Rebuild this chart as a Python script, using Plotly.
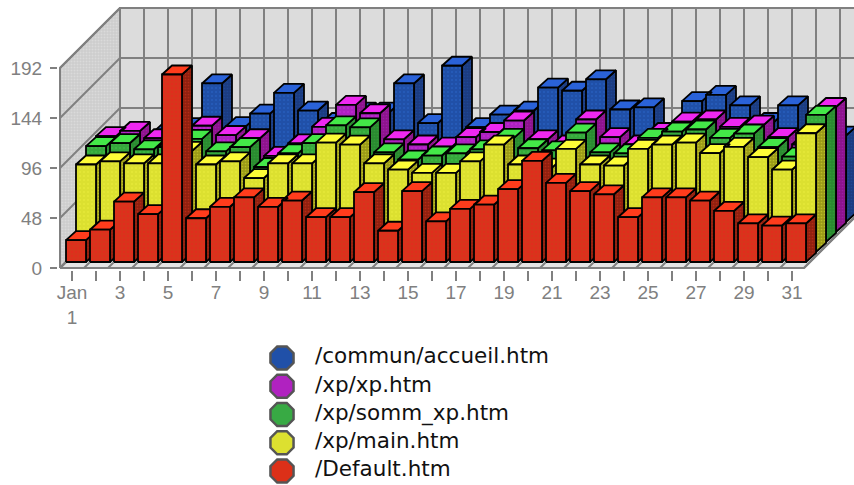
import plotly.graph_objects as go

days = list(range(1, 32))
tick_labels = ["Jan<br>1" if d == 1 else (str(d) if d % 2 else "") for d in days]
y_ticks = [0, 48, 96, 144, 192]

default_htm = [21, 31, 58, 46, 180, 42, 53, 62, 53, 59, 43, 43, 67, 30, 68, 39, 51, 55, 70, 97, 76, 68, 65, 43, 62, 62, 59, 49, 37, 35, 37]
main_htm = [84, 87, 85, 85, 97, 84, 87, 71, 85, 85, 105, 103, 85, 79, 76, 76, 87, 103, 84, 81, 99, 84, 83, 99, 103, 105, 95, 101, 91, 79, 114]
somm_xp_htm = [92, 95, 89, 91, 99, 87, 91, 72, 85, 95, 112, 110, 86, 79, 83, 85, 89, 100, 90, 88, 105, 86, 85, 100, 106, 108, 100, 104, 91, 82, 122]
xp_htm = [92, 97, 90, 88, 102, 93, 90, 73, 85, 101, 122, 114, 89, 84, 82, 91, 96, 107, 89, 84, 108, 91, 84, 96, 106, 108, 101, 103, 91, 84, 120]
accueil_htm = [77, 77, 87, 91, 133, 92, 104, 124, 107, 96, 106, 106, 133, 95, 150, 91, 103, 107, 129, 126, 137, 108, 110, 86, 116, 122, 112, 96, 112, 86, 83]

names = ["/commun/accueil.htm", "/xp/xp.htm", "/xp/somm_xp.htm", "/xp/main.htm", "/Default.htm"]
values = [accueil_htm, xp_htm, somm_xp_htm, main_htm, default_htm]
slots = [4, 3, 2, 1, 0]
front_col = ["#2050a8", "#ae22c0", "#36a83c", "#dce030", "#d8341c"]
top_col = ["#2a62d8", "#ee28f0", "#44e848", "#fdfc38", "#ff3c1c"]
side_col = ["#1c3c80", "#8c148c", "#2a8a30", "#9a9a18", "#90200f"]
dot_col = ["#2c6ad0", "#d030e0", "#44c850", "#f0f040", "#f02020"]

# projection: one plot pixel expressed in each axis' units
PX_X = 1 / 24
PX_Y = 48 / 50
WALL_DX, WALL_DY = 60 * PX_X, 60 * PX_Y
X0 = 0.5  # left end of the floor front edge
XN = 31.5
GRAY = "#808080"

fig = go.Figure()


def poly(polys, fill, line=GRAY, width=1.8, pattern=None):
    xs, ys = [], []
    for p in polys:
        xs += [q[0] for q in p] + [p[0][0], None]
        ys += [q[1] for q in p] + [p[0][1], None]
    kw = {}
    if pattern:
        kw["fillpattern"] = pattern
    fig.add_trace(go.Scatter(x=xs, y=ys, mode="lines", fill="toself", fillcolor=fill,
                             line=dict(color=line, width=width), hoverinfo="skip",
                             showlegend=False, **kw))


def lines(segs, width=2):
    xs, ys = [], []
    for (a, b) in segs:
        xs += [a[0], b[0], None]
        ys += [a[1], b[1], None]
    fig.add_trace(go.Scatter(x=xs, y=ys, mode="lines", line=dict(color=GRAY, width=width),
                             hoverinfo="skip", showlegend=False))


top = y_ticks[-1]
# back wall
poly([[(X0 + WALL_DX, WALL_DY), (XN + WALL_DX + 2, WALL_DY), (XN + WALL_DX + 2, WALL_DY + top), (X0 + WALL_DX, WALL_DY + top)]],
     "#dcdcdc", width=2)
# left wall
poly([[(X0, 0), (X0 + WALL_DX, WALL_DY), (X0 + WALL_DX, WALL_DY + top), (X0, top)]], "#cccccc", width=2,
     pattern=dict(shape=".", fgcolor="#e8e8e8", size=3, solidity=0.35))
# floor
poly([[(X0, 0), (XN, 0), (XN + WALL_DX, WALL_DY), (X0 + WALL_DX, WALL_DY)]], "#e4e4e4", width=2)
grid = [((X0 + i + WALL_DX, WALL_DY), (X0 + i + WALL_DX, WALL_DY + top)) for i in range(0, 33)]
grid += [((X0 + WALL_DX, WALL_DY + v), (XN + WALL_DX + 2, WALL_DY + v)) for v in y_ticks]
grid += [((X0, v), (X0 + WALL_DX, WALL_DY + v)) for v in y_ticks]
grid += [((X0 + i, 0), (X0 + i + WALL_DX, WALL_DY)) for i in range(0, 32)]
lines(grid)

# bars, back series first: side faces, top faces, then front faces
BAR_W = 20 * PX_X
BAR_DX, BAR_DY = 10 * PX_X, 9 * PX_Y
for i, vals in enumerate(values):
    s = slots[i]
    xoff = (6 + 10 * s) * PX_X
    yoff = (6 + 10 * s) * PX_Y
    sides, tops, fronts = [], [], []
    for d, v in zip(days, vals):
        l = X0 + (d - 1) + xoff
        r = l + BAR_W
        b = yoff
        t = yoff + v
        fronts.append([(l, b), (r, b), (r, t), (l, t)])
        tops.append([(l, t), (r, t), (r + BAR_DX, t + BAR_DY), (l + BAR_DX, t + BAR_DY)])
        sides.append([(r, b), (r + BAR_DX, b + BAR_DY), (r + BAR_DX, t + BAR_DY), (r, t)])
    poly(sides, side_col[i], line="#000000", pattern=dict(shape=".", fgcolor=front_col[i], size=3, solidity=0.25))
    poly(tops, top_col[i], line="#000000")
    poly(fronts, front_col[i], line="#000000", pattern=dict(shape=".", fgcolor=dot_col[i], size=4, solidity=0.2))

# legend rows
rows = list(range(len(names)))
legend_col = ["#2050a8", "#b022c0", "#38aa44", "#dce030", "#dc3018"]
for r, n, c in zip(rows, names, legend_col):
    fig.add_trace(go.Scatter(x=[282], y=[r], xaxis="x2", yaxis="y2", mode="markers", name=n,
                             marker=dict(symbol="octagon", size=25, color=c, line=dict(color="#555555", width=2.5)),
                             showlegend=False, hoverinfo="name"))
    fig.add_trace(go.Scatter(x=[315], y=[r], xaxis="x2", yaxis="y2", mode="text", text=[n],
                             textposition="middle right", showlegend=False, hoverinfo="skip",
                             textfont=dict(family="DejaVu Sans", size=21.5, color="#111111")))

fig.update_layout(
    width=854, height=485, autosize=False,
    margin=dict(l=0, r=0, t=6, b=0, pad=0),
    paper_bgcolor="white", plot_bgcolor="rgba(0,0,0,0)",
    showlegend=False,
    font=dict(family="Liberation Sans", color=GRAY, size=19),
    xaxis=dict(domain=[58 / 854, 1], range=[1 - 14 / 24, 1 + 782 / 24], tickmode="array", tickvals=days,
               ticktext=tick_labels, ticks="outside", ticklen=10, tickwidth=2, tickcolor=GRAY, automargin=False,
               showgrid=False, zeroline=False, showline=False, tickangle=0, ticklabelstandoff=-5),
    yaxis=dict(domain=[215 / 479, 1], range=[-2 * PX_Y, 262 * PX_Y], tickmode="array", tickvals=y_ticks,
               ticks="outside", ticklen=7, tickwidth=2, tickcolor=GRAY, showgrid=False, automargin=False,
               zeroline=False, showline=False, ticklabelstandoff=4),
    xaxis2=dict(domain=[0, 1], range=[0, 854], visible=False, anchor="y2", automargin=False),
    yaxis2=dict(domain=[0, 145 / 479], range=[(485 - 358) / 28.25, -18 / 28.25], visible=False, anchor="x2", automargin=False),
)

fig.write_html("out.html", post_script="document.body.style.margin='0';", config={"displayModeBar": False})
